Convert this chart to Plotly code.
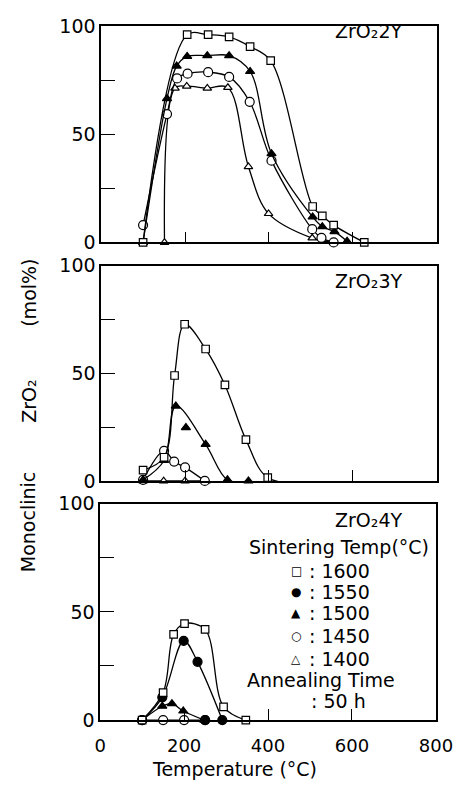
import plotly.graph_objects as go

# ---------------- data ----------------
# Panel 1: ZrO2 2Y
p1_1600_x = [100, 205, 255, 305, 355, 404, 504, 527, 554, 627]
p1_1600_y = [0, 96, 96, 95, 90.5, 84, 16.6, 12.3, 8, 0]
p1_1500_x = [100, 157, 180, 205, 253, 305, 355, 406, 504, 527, 556, 586]
p1_1500_y = [0, 66.5, 81.5, 86, 86.3, 86.3, 79, 41, 11.8, 7.3, 5, 0.5]
p1_1450_x = [100, 157, 181, 206, 255, 305, 354, 406, 503, 525, 554]
p1_1450_y = [8, 59.3, 75.8, 78, 78.7, 76.5, 65, 37.8, 6.1, 2.1, 0]
p1_1400_x = [151, 176, 204, 253, 302, 351, 399, 503, 554]
p1_1400_y = [0, 71.3, 72.2, 71.3, 71.6, 35, 13.3, 2, 0]

# Panel 2: ZrO2 3Y
p2_1600_x = [100, 150, 175, 199, 249, 295, 345, 397, 499]
p2_1600_y = [5, 11, 49, 72.8, 61.3, 44.6, 19.2, 1.5, -0.8]
p2_1500_x = [100, 150, 178, 202, 249, 301, 351]
p2_1500_y = [0.5, 9.5, 34.8, 24.8, 17, 0.5, 0]
p2_1500_offcurve = [3]
p2_1450_x = [100, 150, 174, 200, 247]
p2_1450_y = [0.5, 14, 9, 6.3, 0]
p2_1400_x = [100, 149, 200, 250]
p2_1400_y = [0, 0, 0, 0]

# Panel 3: ZrO2 4Y
p3_1600_x = [100, 150, 175, 201, 250, 294, 347]
p3_1600_y = [0, 12.7, 39.6, 44.6, 41.9, 6.1, 0]
p3_1550_x = [100, 148, 199, 232, 250, 291]
p3_1550_y = [0, 10.5, 36.6, 26.9, 0, 0]
p3_1550_offcurve = [4]
p3_1500_x = [100, 148, 171, 198, 248]
p3_1500_y = [0, 6.4, 7.6, 4.2, 0]
p3_1450_x = [100, 150, 200, 250]
p3_1450_y = [0, 0, 0, 0]

x_tickvals = [0, 200, 400, 600, 800]
x_ticktext = ["0", "200", "400", "600", "800"]
y_tickvals = [0, 50, 100]
y_ticktext = ["0", "50", "100"]
y_minor_dtick = 25

panel_labels = ["ZrO\u20822Y", "ZrO\u20823Y", "ZrO\u20824Y"]
legend_temps = ["1600", "1550", "1500", "1450", "1400"]
legend_symbols = ["\u25A1", "\u25CF", "\u25B2", "\u25CB", "\u25B3"]

# ---------------- styles ----------------
FONT = "DejaVu Sans"
W, H = 471, 794

sty = {
    "1600": dict(symbol="square", color="white", size=7.5),
    "1550": dict(symbol="circle", color="black", size=9),
    "1500": dict(symbol="triangle-up", color="black", size=8),
    "1450": dict(symbol="circle", color="white", size=9),
    "1400": dict(symbol="triangle-up", color="white", size=7.5),
}

fig = go.Figure()

def add(xs, ys, key, ax, skip=()):
    s = sty[key]
    lx = [v for i, v in enumerate(xs) if i not in skip]
    ly = [v for i, v in enumerate(ys) if i not in skip]
    fig.add_trace(go.Scatter(
        x=lx, y=ly, mode="lines",
        line=dict(color="black", width=1.3, shape="spline", smoothing=1.0),
        xaxis="x" + ax, yaxis="y" + ax, showlegend=False, cliponaxis=False,
        hoverinfo="skip",
    ))
    fig.add_trace(go.Scatter(
        x=xs, y=ys, mode="markers",
        marker=dict(symbol=s["symbol"], color=s["color"], size=s["size"],
                    line=dict(color="black", width=1.2)),
        xaxis="x" + ax, yaxis="y" + ax, showlegend=False, cliponaxis=False,
    ))

# panel 1
add(p1_1400_x, p1_1400_y, "1400", "")
add(p1_1450_x, p1_1450_y, "1450", "")
add(p1_1500_x, p1_1500_y, "1500", "")
add(p1_1600_x, p1_1600_y, "1600", "")
# panel 2
add(p2_1400_x, p2_1400_y, "1400", "2")
add(p2_1450_x, p2_1450_y, "1450", "2")
add(p2_1500_x, p2_1500_y, "1500", "2", p2_1500_offcurve)
add(p2_1600_x, p2_1600_y, "1600", "2")
# panel 3
add(p3_1450_x, p3_1450_y, "1450", "3")
add(p3_1500_x, p3_1500_y, "1500", "3")
add(p3_1550_x, p3_1550_y, "1550", "3", p3_1550_offcurve)
add(p3_1600_x, p3_1600_y, "1600", "3")

def xaxis(domain, anchor, labels):
    d = dict(domain=domain, anchor=anchor, range=[0, 800],
             tickvals=x_tickvals, ticks="inside", ticklen=11, tickwidth=1.3,
             tickcolor="black", showticklabels=labels,
             showline=True, linecolor="black", linewidth=1.5, mirror=True,
             showgrid=False, zeroline=False,
             tickfont=dict(family=FONT, size=18, color="black"))
    if labels:
        d.update(ticktext=x_ticktext, ticklabelstandoff=9)
    return d

def yaxis(domain, anchor):
    return dict(domain=domain, anchor=anchor, range=[0, 100],
                tickvals=y_tickvals, ticktext=y_ticktext,
                ticks="inside", ticklen=14, tickwidth=1.3, tickcolor="black",
                minor=dict(dtick=y_minor_dtick, ticks="inside", ticklen=14,
                           tickwidth=1.3, tickcolor="black", showgrid=False),
                showline=True, linecolor="black", linewidth=1.5, mirror=True,
                showgrid=False, zeroline=False,
                tickfont=dict(family=FONT, size=19, color="black"))

def px(x):
    return x / W

def py(y):
    return 1 - y / H

xd12 = [px(100), px(453)]
xd3 = [px(99), px(452)]

fig.update_layout(
    width=W, height=H, margin=dict(l=0, r=0, t=0, b=0),
    paper_bgcolor="white", plot_bgcolor="white",
    xaxis=xaxis(xd12, "y", False),
    yaxis=yaxis([py(238), py(15.5)], "x"),
    xaxis2=xaxis(xd12, "y2", False),
    yaxis2=yaxis([py(483.3), py(262)], "x2"),
    xaxis3=xaxis(xd3, "y3", True),
    yaxis3=yaxis([py(729.3), py(506.7)], "x3"),
    font=dict(family=FONT, color="black"),
)

ann = []
def text(t, x, y, size=19, xanchor="center", yanchor="middle", angle=0):
    ann.append(dict(text=t, x=px(x), y=py(y), xref="paper", yref="paper",
                    showarrow=False, xanchor=xanchor, yanchor=yanchor,
                    textangle=angle,
                    font=dict(family=FONT, size=size, color="black")))

text(panel_labels[0], 381, 21)
text(panel_labels[1], 381, 278)
text(panel_labels[2], 381, 523)
text("Sintering Temp(\u00b0C)", 350, 551)
leg_y = [576, 598, 619, 642.5, 666]
for sym, t, yy in zip(legend_symbols, legend_temps, leg_y):
    text(sym, 305, yy, size=12)
    text(": " + t, 316, yy, xanchor="left")
text("Annealing Time", 251, 688, xanchor="left")
text(": 50 h", 319, 710, xanchor="left")
text("Temperature (\u00b0C)", 240, 793, yanchor="bottom")
text("Monoclinic", 24, 526, angle=-90)
text("ZrO\u2082", 24, 401, angle=-90)
text("(mol%)", 24, 290, angle=-90)

fig.update_layout(annotations=ann)
fig.write_html("out.html")
